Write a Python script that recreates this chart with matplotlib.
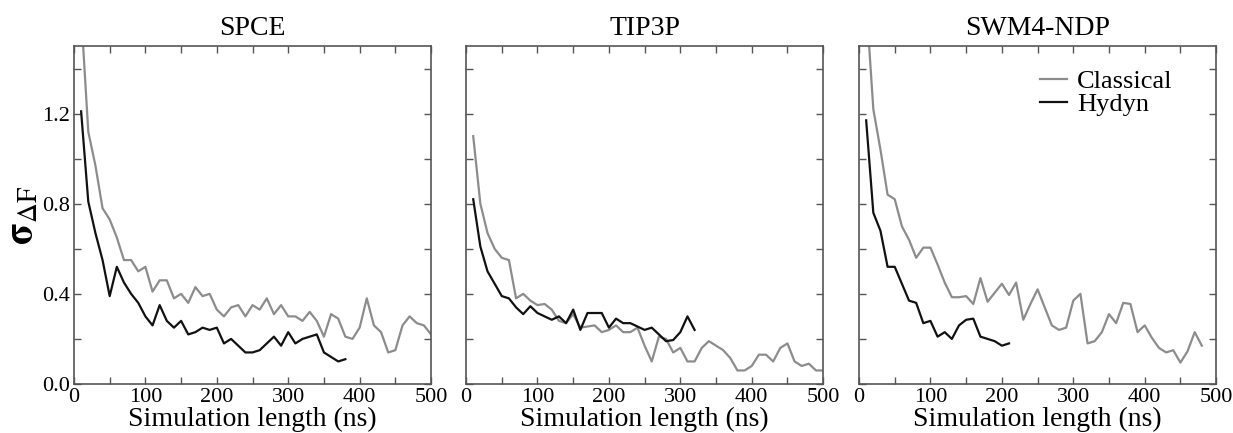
import numpy as np
import matplotlib
matplotlib.use('Agg')
import matplotlib.pyplot as plt
from matplotlib.ticker import MultipleLocator, FixedFormatter, FixedLocator

plt.rcParams['font.family'] = ['Liberation Serif', 'DejaVu Serif']
plt.rcParams['mathtext.fontset'] = 'stix'

titles = ['SPCE', 'TIP3P', 'SWM4-NDP']

spce_time_cl = np.arange(10, 510, 10)
spce_classical = [1.65, 1.12, 0.97, 0.78, 0.73, 0.65, 0.55, 0.55, 0.50, 0.52,
                  0.41, 0.46, 0.46, 0.38, 0.40, 0.36, 0.43, 0.39, 0.40, 0.33,
                  0.30, 0.34, 0.35, 0.30, 0.35, 0.33, 0.38, 0.31, 0.35, 0.30,
                  0.30, 0.28, 0.32, 0.28, 0.21, 0.31, 0.29, 0.21, 0.20, 0.25,
                  0.38, 0.26, 0.23, 0.14, 0.15, 0.26, 0.30, 0.27, 0.26, 0.22]
spce_time_hy = np.arange(10, 390, 10)
spce_hydyn = [1.21, 0.81, 0.67, 0.55, 0.39, 0.52, 0.45, 0.40, 0.36, 0.30,
              0.26, 0.35, 0.28, 0.25, 0.28, 0.22, 0.23, 0.25, 0.24, 0.25,
              0.18, 0.20, 0.17, 0.14, 0.14, 0.15, 0.18, 0.21, 0.17, 0.23,
              0.18, 0.20, 0.21, 0.22, 0.14, 0.12, 0.10, 0.11]

tip3p_time_cl = np.arange(10, 510, 10)
tip3p_classical = [1.10, 0.80, 0.67, 0.60, 0.56, 0.55, 0.38, 0.40, 0.37, 0.35,
                   0.355, 0.33, 0.28, 0.27, 0.31, 0.25, 0.255, 0.26, 0.23, 0.24,
                   0.26, 0.23, 0.23, 0.25, 0.17, 0.10, 0.21, 0.20, 0.14, 0.16,
                   0.10, 0.10, 0.16, 0.19, 0.17, 0.15, 0.115, 0.06, 0.06, 0.08,
                   0.13, 0.13, 0.10, 0.16, 0.18, 0.10, 0.08, 0.09, 0.06, 0.06]
tip3p_time_hy = np.arange(10, 330, 10)
tip3p_hydyn = [0.82, 0.61, 0.50, 0.445, 0.39, 0.38, 0.34, 0.31, 0.345, 0.315,
               0.30, 0.285, 0.30, 0.27, 0.33, 0.24, 0.315, 0.315, 0.315, 0.25,
               0.29, 0.27, 0.27, 0.255, 0.24, 0.25, 0.22, 0.19, 0.195, 0.23,
               0.30, 0.24]

swm4_time_cl = np.arange(10, 490, 10)
swm4_classical = [1.70, 1.22, 1.04, 0.84, 0.82, 0.70, 0.64, 0.56, 0.605, 0.605,
                  0.53, 0.45, 0.385, 0.385, 0.39, 0.355, 0.47, 0.365, 0.405, 0.445,
                  0.395, 0.45, 0.285, 0.355, 0.42, 0.34, 0.26, 0.24, 0.25, 0.37,
                  0.40, 0.18, 0.19, 0.23, 0.31, 0.27, 0.36, 0.355, 0.23, 0.26,
                  0.205, 0.16, 0.14, 0.15, 0.095, 0.145, 0.23, 0.17]
swm4_time_hy = np.arange(10, 220, 10)
swm4_hydyn = [1.17, 0.76, 0.68, 0.52, 0.52, 0.445, 0.37, 0.36, 0.27, 0.28,
              0.21, 0.23, 0.20, 0.26, 0.285, 0.29, 0.21, 0.20, 0.19, 0.17,
              0.18]

series = [
    (spce_time_cl, spce_classical, spce_time_hy, spce_hydyn),
    (tip3p_time_cl, tip3p_classical, tip3p_time_hy, tip3p_hydyn),
    (swm4_time_cl, swm4_classical, swm4_time_hy, swm4_hydyn),
]

fig = plt.figure(figsize=(12.33, 4.33), dpi=100)
lefts = [0.060, 0.378, 0.6967]
frame = '#555555'

for i, (tc, yc, th, yh) in enumerate(series):
    ax = fig.add_axes([lefts[i], 0.1132, 0.2896, 0.7806])
    ax.plot(tc, yc, color='#8c8c8c', lw=1.6, label='Classical')
    ax.plot(th, yh, color='#111111', lw=1.6, label='Hydyn')
    ax.set_xlim(0, 500)
    ax.set_ylim(0, 1.5)
    ax.xaxis.set_major_locator(MultipleLocator(100))
    ax.xaxis.set_minor_locator(MultipleLocator(50))
    ax.yaxis.set_major_locator(FixedLocator([0.0, 0.4, 0.8, 1.2]))
    ax.yaxis.set_minor_locator(FixedLocator([0.2, 0.6, 1.0, 1.4]))
    ax.tick_params(which='both', direction='in', top=True, right=True,
                   length=5, width=1, color=frame, labelsize=16, pad=3)
    for s in ax.spines.values():
        s.set_color(frame)
        s.set_linewidth(1.2)
    if i == 0:
        ax.yaxis.set_major_formatter(FixedFormatter(['0.0', '0.4', '0.8', '1.2']))
        ax.set_ylabel(r'$\mathbf{\sigma}_{\Delta \mathrm{F}}$', fontsize=28, labelpad=0)
    else:
        ax.set_yticklabels([])
    ax.set_title(titles[i], fontsize=20, pad=8)
    ax.set_xlabel('Simulation length (ns)', fontsize=20, labelpad=0)
    if i == 2:
        ax.legend(loc='upper right', bbox_to_anchor=(0.93, 0.985), frameon=False,
                  fontsize=19, handlelength=1.0, handletextpad=0.4,
                  labelspacing=0.0, borderpad=0.2)

fig.savefig('out.png', dpi=100)
